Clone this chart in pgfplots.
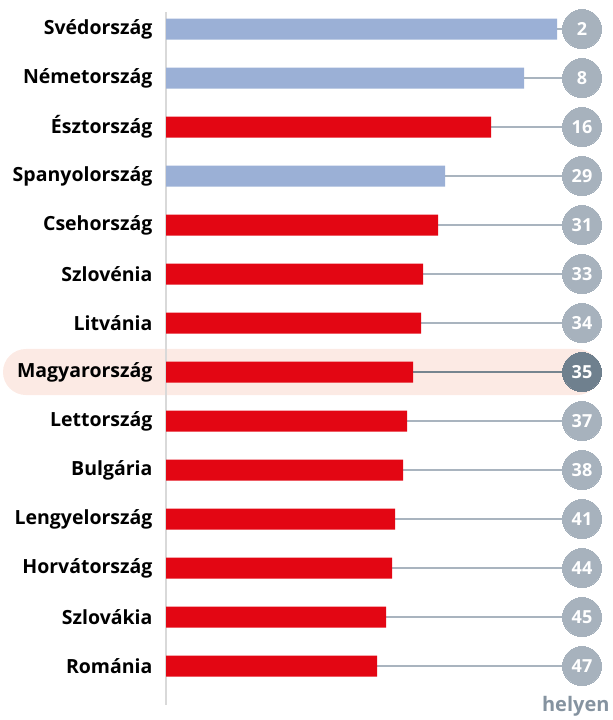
\documentclass[border=0pt]{standalone}
\usepackage{pgfplots}
\pgfplotsset{compat=1.18}
\usepackage{fontspec}
\setmainfont{Open Sans}
\definecolor{barred}{HTML}{E30613}
\definecolor{barblue}{HTML}{9BB0D6}
\definecolor{circg}{HTML}{A7B2BD}
\definecolor{circd}{HTML}{6F808E}
\definecolor{lineg}{HTML}{A9B4BF}
\definecolor{lined}{HTML}{76858F}
\definecolor{bandc}{HTML}{FCEAE4}
\definecolor{axisc}{HTML}{D9D9D9}
\definecolor{helyc}{HTML}{8593A0}
\begin{document}
\begin{tikzpicture}
\begin{axis}[scale only axis, width=611pt, height=720pt,
  xmin=-166, xmax=445, ymin=-0.592, ymax=14.102, y dir=reverse,
  hide axis, clip=false]
\path (rel axis cs:0,0) rectangle (rel axis cs:1,1);
\fill[bandc, rounded corners=23pt] (axis cs:-163,6.53) rectangle (axis cs:434,7.47);
\addplot[axisc, line width=2pt] coordinates {(0,-0.347) (0,13.8)};
\addplot[lineg, line width=2.5pt, unbounded coords=jump] coordinates {
 (391,0) (416,0) (nan,nan)
 (358,1) (416,1) (nan,nan)
 (325,2) (416,2) (nan,nan)
 (279,3) (416,3) (nan,nan)
 (272,4) (416,4) (nan,nan)
 (257,5) (416,5) (nan,nan)
 (255,6) (416,6) (nan,nan)
 (241,8) (416,8) (nan,nan)
 (237,9) (416,9) (nan,nan)
 (229,10) (416,10) (nan,nan)
 (226,11) (416,11) (nan,nan)
 (220,12) (416,12) (nan,nan)
 (211,13) (416,13)};
\addplot[lined, line width=2.5pt] coordinates {(247,7) (416,7)};
\addplot[xbar, bar width=21pt, bar shift=0pt, fill=barblue, draw=none]
 coordinates {(391,0) (358,1) (279,3)};
\addplot[xbar, bar width=21pt, bar shift=0pt, fill=barred, draw=none]
 coordinates {(325,2) (272,4) (257,5) (255,6) (247,7) (241,8) (237,9) (229,10) (226,11) (220,12) (211,13)};
\addplot[circg, only marks, mark=*, mark size=19.5pt, mark options={fill=circg, draw=circg, line width=0pt},
  point meta=explicit symbolic, nodes near coords,
  nodes near coords style={anchor=center, text=white, font=\bfseries\fontsize{18}{18}\selectfont}]
 coordinates {(416,0) [2] (416,1) [8] (416,2) [16] (416,3) [29] (416,4) [31] (416,5) [33] (416,6) [34]
 (416,8) [37] (416,9) [38] (416,10) [41] (416,11) [44] (416,12) [45] (416,13) [47]};
\addplot[circd, only marks, mark=*, mark size=19.5pt, mark options={fill=circd, draw=circd, line width=0pt},
  point meta=explicit symbolic, nodes near coords,
  nodes near coords style={anchor=center, text=white, font=\bfseries\fontsize{18}{18}\selectfont}]
 coordinates {(416,7) [35]};
\begin{scope}[every node/.style={anchor=east, font=\bfseries\fontsize{19.5}{19.5}\selectfont}]
\node at (axis cs:-10,0) {Svédország};
\node at (axis cs:-10,1) {Németország};
\node at (axis cs:-10,2) {Észtország};
\node at (axis cs:-10,3) {Spanyolország};
\node at (axis cs:-10,4) {Csehország};
\node at (axis cs:-10,5) {Szlovénia};
\node at (axis cs:-10,6) {Litvánia};
\node at (axis cs:-10,7) {Magyarország};
\node at (axis cs:-10,8) {Lettország};
\node at (axis cs:-10,9) {Bulgária};
\node at (axis cs:-10,10) {Lengyelország};
\node at (axis cs:-10,11) {Horvátország};
\node at (axis cs:-10,12) {Szlovákia};
\node at (axis cs:-10,13) {Románia};
\end{scope}
\node[anchor=east, text=helyc, font=\bfseries\fontsize{20}{20}\selectfont] at (axis cs:447,13.82) {helyen};
\end{axis}
\end{tikzpicture}
\end{document}
